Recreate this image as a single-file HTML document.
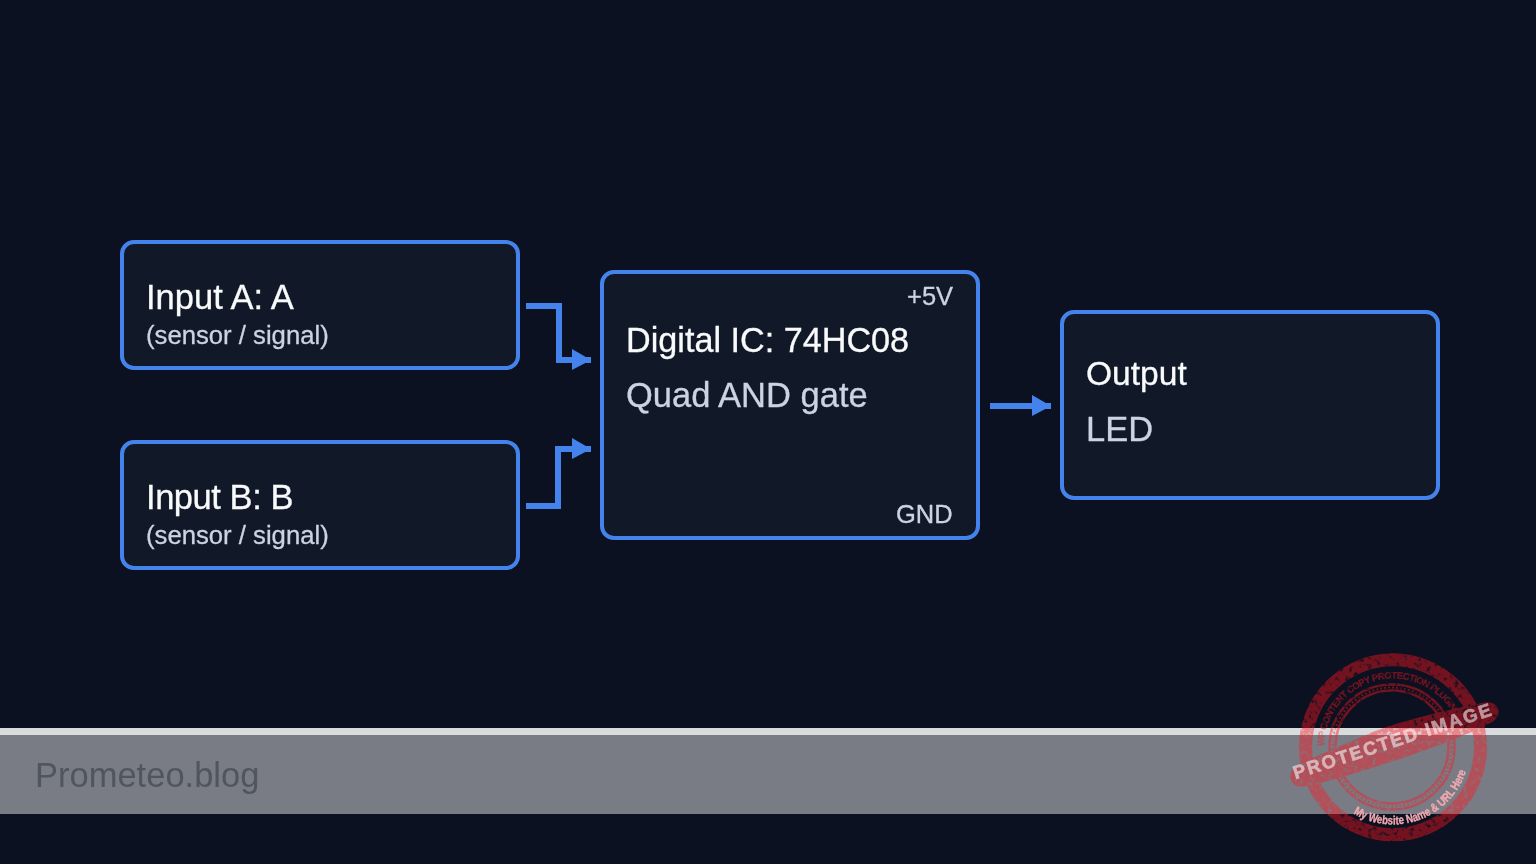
<!DOCTYPE html>
<html><head><meta charset="utf-8"><title>Digital IC 74HC08</title>
<style>
html,body{margin:0;padding:0;width:1536px;height:864px;overflow:hidden;background:#0b1120;font-family:"Liberation Sans",sans-serif;}
.box{position:absolute;box-sizing:border-box;border:4px solid #4483ec;border-radius:14px;background:#111827;}
.t{position:absolute;white-space:pre;line-height:1;margin:0;will-change:transform;-webkit-text-stroke:0.3px currentColor;}
.big{font-size:34.5px;}
.sm{font-size:25.5px;}
.w{color:#f8fafc;}
.g{color:#cbd5e1;}
svg{position:absolute;left:0;top:0;}
</style></head><body>
<div class="box" style="left:120px;top:240px;width:400px;height:130px;"></div>
<div class="box" style="left:120px;top:440px;width:400px;height:130px;"></div>
<div class="box" style="left:600px;top:270px;width:380px;height:270px;"></div>
<div class="box" style="left:1060px;top:310px;width:380px;height:190px;"></div>

<svg width="1536" height="864" viewBox="0 0 1536 864">
  <g fill="none" stroke="#4483ec" stroke-width="6" stroke-linejoin="miter">
    <path d="M526 306 H559 V360 H591"/>
    <path d="M526 506 H558 V449 H591"/>
    <path d="M990 406 H1051"/>
  </g>
  <g fill="#4483ec">
    <path d="M572 349 L591 360 L572 370 Z"/>
    <path d="M572 438 L591 449 L572 459 Z"/>
    <path d="M1032 395 L1051 406 L1032 416 Z"/>
  </g>
</svg>

<div class="t big w" style="left:146px;top:280px;">Input A: A</div>
<div class="t sm g" style="left:146px;top:323px;font-size:25.7px;">(sensor / signal)</div>
<div class="t big w" style="left:146px;top:480px;letter-spacing:-0.45px;">Input B: B</div>
<div class="t sm g" style="left:146px;top:523px;font-size:25.7px;">(sensor / signal)</div>

<div class="t big w" style="left:626px;top:322.5px;font-size:34.2px;">Digital IC: 74HC08</div>
<div class="t big g" style="left:626px;top:378px;">Quad AND gate</div>
<div class="t sm g" style="left:907px;top:284px;">+5V</div>
<div class="t sm g" style="left:896px;top:502px;">GND</div>

<div class="t big w" style="left:1086px;top:357px;font-size:33.6px;">Output</div>
<div class="t big g" style="left:1086px;top:412px;">LED</div>

<div style="position:absolute;left:0;top:728px;width:1536px;height:7px;background:rgba(255,255,255,0.85);"></div>
<div style="position:absolute;left:0;top:735px;width:1536px;height:79px;background:rgba(255,255,255,0.45);"></div>
<div class="t big" style="left:35px;top:757.5px;color:#50555f;-webkit-text-stroke:0;">Prometeo.blog</div>

<svg width="1536" height="864" viewBox="0 0 1536 864">
  <defs>
    <filter id="grunge" x="1280" y="640" width="240" height="224" filterUnits="userSpaceOnUse">
      <feTurbulence type="fractalNoise" baseFrequency="0.22" numOctaves="3" seed="11" result="n"/>
      <feColorMatrix in="n" type="matrix" values="0 0 0 0 0  0 0 0 0 0  0 0 0 0 0  0 0 0 -3 2.6" result="m"/>
      <feComposite in="SourceGraphic" in2="m" operator="in"/>
    </filter>
    <path id="arcTop" d="M1324.0 746.3 A69 69 0 0 1 1452.1 712.0"/>
    <path id="arcBot" d="M1353.3 813.5 A77 77 0 0 0 1466.2 771.3"/>
  </defs>
  <g opacity="0.43" filter="url(#grunge)">
    <g fill="none" stroke="#ff1822">
      <circle cx="1393" cy="747.3" r="87.5" stroke-width="13"/>
      <circle cx="1392" cy="747" r="62.5" stroke-width="2.6"/>
      <circle cx="1392" cy="747" r="56.5" stroke-width="2.6"/>
      <circle cx="1392" cy="747" r="59.5" stroke-width="2" stroke-dasharray="2 2"/>
    </g>
    <text font-family="Liberation Sans" font-weight="bold" font-size="9.5" fill="#ff1822" stroke="#ff1822" stroke-width="0.3"><textPath href="#arcTop" textLength="178" lengthAdjust="spacing">WP CONTENT COPY PROTECTION PLUGIN</textPath></text>
    <path fill="#ff1822" transform="translate(1394 747.2) rotate(-18)" d="M-108 -2 C-108 -10 -100 -13 -85 -14.5 C-50 -17.5 -20 -21.5 0 -21.5 C40 -21.5 80 -17 100 -14.5 C113 -12.5 115 2 102 6 C80 10.5 40 12.5 0 13 C-40 13 -80 12 -95 10 C-106 8 -108 4 -108 -2 Z"/>
  </g>
  <g opacity="0.55"><text x="0" y="0" text-anchor="middle" font-family="Liberation Sans" font-weight="bold" font-size="18.5" fill="#fff" stroke="#fff" stroke-width="0.6" stroke-linejoin="round" textLength="207" lengthAdjust="spacing" transform="translate(1394 747.2) rotate(-18)">PROTECTED IMAGE</text></g>
  <text font-family="Liberation Sans" font-weight="bold" font-size="12" fill="#f2a9b1" stroke="#f2a9b1" stroke-width="0.35"><textPath href="#arcBot" textLength="138" lengthAdjust="spacingAndGlyphs">My Website Name &amp; URL Here</textPath></text>
</svg>
</body></html>
